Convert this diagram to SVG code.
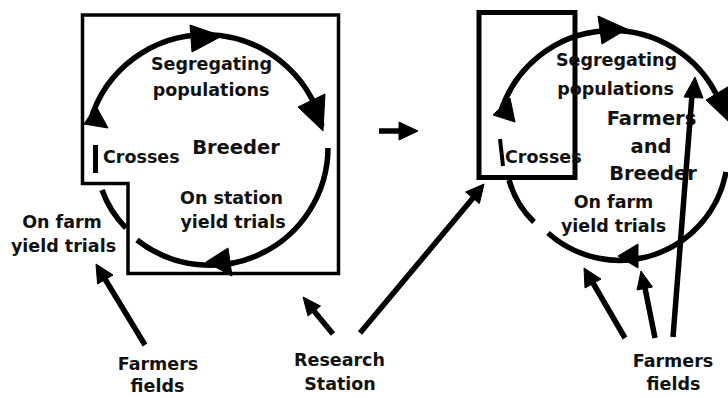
<svg xmlns="http://www.w3.org/2000/svg" width="728" height="398" viewBox="0 0 728 398">
<style>
.bg{fill:#fff}
.box{fill:none;stroke:#000;stroke-width:3.5;stroke-linejoin:miter}
.rbox{fill:none;stroke:#000;stroke-width:5}
.arc{fill:none;stroke:#000;stroke-width:5.5;stroke-linecap:butt}
.shaft{fill:none;stroke:#000;stroke-width:5.5;stroke-linecap:butt}
.head{fill:#000;stroke:#000;stroke-width:1;stroke-linejoin:round}
text{font-family:"DejaVu Sans","Verdana",sans-serif;font-weight:bold;fill:#111}
.t{font-size:17.5px;text-anchor:middle}
.tl{font-size:17.5px}
.big{font-size:19.5px;text-anchor:middle}
.lab{font-size:17.5px;text-anchor:middle}
</style>
<rect class="bg" x="0" y="0" width="728" height="398"/>

<!-- Left diagram: breeder-managed -->
<g id="left-boundary">
  <path class="box" d="M 82.5 15 H 338.5 V 273.5 H 128 V 183.5 H 82.5 Z"/>
</g>

<g id="left-cycle">
  <path class="arc" d="M 90 122 A 120 120 0 0 1 322 126"/>
  <polygon class="head" points="84,124 96,106 108,128"/>
  <polygon class="head" points="190,25 192,52 222,36"/>
  <polygon class="head" points="298,107 325,94 323,131"/>
  <path class="arc" d="M 328 148 A 118 118 0 0 1 137 240"/>
  <polygon class="head" points="206,262 228,248 232,276"/>
  <path class="arc" d="M 102 190 Q 110 212 126 228"/>
</g>

<g id="left-segregating">
  <text class="t" x="211.5" y="70">Segregating</text>
  <text class="t" x="211" y="96">populations</text>
</g>
<g id="left-breeder">
  <text class="big" x="236" y="154">Breeder</text>
</g>
<g id="left-crosses">
  <rect x="93" y="145" width="5" height="28" fill="#000"/>
  <text class="tl" x="103" y="162.5">Crosses</text>
</g>
<g id="left-onstation">
  <text class="t" x="231.5" y="204">On station</text>
  <text class="t" x="233" y="228">yield trials</text>
</g>
<g id="left-onfarm">
  <text class="t" x="62" y="228">On farm</text>
  <text class="t" x="63.5" y="252">yield trials</text>
</g>
<g id="left-farmers-fields">
  <text class="lab" x="158" y="370">Farmers</text>
  <text class="lab" x="157.5" y="392">fields</text>
</g>
<g id="research-station">
  <text class="lab" x="339.5" y="366">Research</text>
  <text class="lab" x="340" y="390">Station</text>
</g>

<!-- Right diagram: participatory -->
<g id="right-station-box">
  <rect class="rbox" x="479" y="12.5" width="96" height="165"/>
</g>

<g id="right-cycle">
  <path class="arc" d="M 500 114 A 117 117 0 0 1 719 100"/>
  <polygon class="head" points="493,115 510,98 515,122"/>
  <polygon class="head" points="598,16 602,44 627,29"/>
  <polygon class="head" points="706,100 731,85 729,122"/>
  <path class="arc" d="M 726 172 A 108 108 0 0 1 548 233"/>
  <polygon class="head" points="618,256 638,244 638,268"/>
  <path class="arc" d="M 509 180 Q 516 205 534 222"/>
</g>

<g id="right-segregating">
  <text class="t" x="616.5" y="66">Segregating</text>
  <text class="t" x="615.5" y="95">populations</text>
</g>
<g id="right-farmers-breeder">
  <text class="big" x="651.5" y="125">Farmers</text>
  <text class="big" x="651" y="153">and</text>
  <text class="big" x="653" y="180">Breeder</text>
</g>
<g id="right-crosses">
  <line x1="500" y1="139" x2="503" y2="166" stroke="#000" stroke-width="4"/>
  <text class="tl" x="505" y="163">Crosses</text>
</g>
<g id="right-onfarm">
  <text class="t" x="613.5" y="208">On farm</text>
  <text class="t" x="613.5" y="232">yield trials</text>
</g>
<g id="right-farmers-fields">
  <text class="lab" x="673" y="367">Farmers</text>
  <text class="lab" x="673.5" y="390">fields</text>
</g>

<g id="connectors">
  <!-- transition arrow -->
  <line class="shaft" x1="379" y1="131" x2="401" y2="131"/>
  <polygon class="head" points="399,122 399,140 418,131"/>
  <!-- farmers fields to on-farm trials (left) -->
  <line class="shaft" x1="145" y1="345" x2="105" y2="279"/>
  <polygon class="head" points="96,264 113,275 97.6,284"/>
  <!-- research station to left box -->
  <line class="shaft" x1="333" y1="334" x2="314" y2="311"/>
  <polygon class="head" points="303,297 320.5,306 308,316"/>
  <!-- research station to right box -->
  <line class="shaft" x1="360" y1="333" x2="473" y2="198"/>
  <polygon class="head" points="484,184 479.4,203.6 465.6,192"/>
  <!-- farmers fields (right) -->
  <line class="shaft" x1="625" y1="338" x2="593" y2="283"/>
  <polygon class="head" points="584,268 601,279 585,288"/>
  <line class="shaft" x1="655" y1="338" x2="645" y2="288"/>
  <polygon class="head" points="641,271 652.5,287 637,290"/>
  <line class="shaft" x1="673" y1="337" x2="692" y2="95"/>
  <polygon class="head" points="695,77 684,97 703,98"/>
</g>
</svg>
